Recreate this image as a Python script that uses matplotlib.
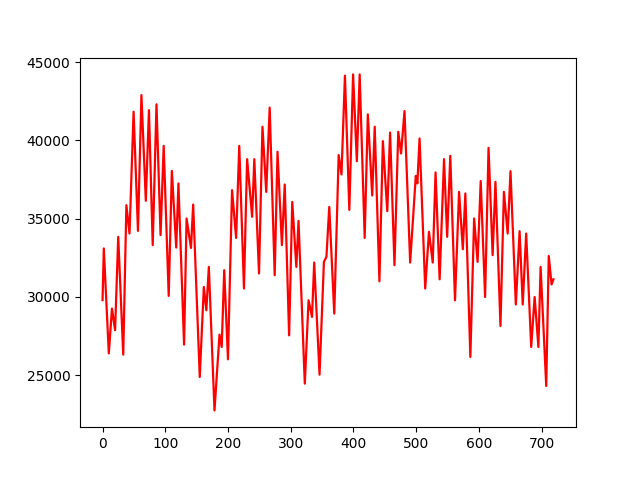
import matplotlib
matplotlib.use('Agg')
import matplotlib.pyplot as plt

# turning points (hour index, load)
hours = [0, 2, 10, 15, 20, 25, 33, 38, 43, 49.5, 56.5, 62, 69, 74, 80, 86, 92.5, 97.5,
         105.5, 110.5, 117.5, 121, 130, 134, 141, 144.5, 155, 161.5, 165.5, 169.5, 178.5,
         186.5, 190, 194, 200, 206.5, 213, 218, 225.5, 230.5, 238.5, 242, 249.5, 255, 261,
         266.5, 274.5, 279, 286, 290.5, 297.5, 302.5, 309, 312.5, 322.5, 328.5, 334, 337.5,
         346, 353, 357, 361.5, 369.5, 376.5, 381, 386.5, 393.5, 399.5, 405.5, 410, 418, 423,
         430, 434, 441.5, 447, 454, 458.5, 465.5, 471.5, 476, 481.5, 490.5, 499.5, 502,
         505.5, 514.5, 520.5, 526.5, 531, 537.5, 544.5, 549.5, 554.5, 562, 568.5, 574.5,
         578.5, 586.5, 592.5, 598, 603, 610, 615.5, 622, 626.5, 634.5, 640, 646, 650.5, 659,
         665, 670, 675.5, 683.5, 689, 695, 698.5, 707.5, 711.5, 716, 719]
load = [29800, 33100, 26400, 29260, 27880, 33840, 26320, 35860, 34050, 41830, 34220, 42890,
        36140, 41930, 33310, 42300, 33950, 39650, 30070, 38050, 33160, 37250, 26960, 35010,
        33130, 35900, 24890, 30640, 29150, 31920, 22760, 27600, 26810, 31710, 26020, 36820,
        33770, 39650, 30540, 38800, 35120, 38800, 31500, 40870, 36710, 42090, 31390, 39270,
        33310, 37180, 27550, 36070, 31920, 34860, 24470, 29790, 28730, 32200, 25040, 32240,
        32560, 35750, 28940, 39060, 37820, 44130, 35560, 44210, 38670, 44210, 33770, 41660,
        36480, 40870, 31000, 39950, 35480, 40500, 32030, 40550, 39160, 41870, 32200, 37730,
        37250, 40120, 30540, 34160, 32200, 37950, 31130, 38800, 33840, 39010, 29790, 36710,
        33050, 36610, 26170, 35010, 32240, 37400, 30000, 39520, 32670, 37350, 28150, 36710,
        34050, 38030, 29520, 34200, 29520, 34050, 26810, 30000, 26810, 31920, 24320, 32620,
        30800, 31130]

fig, ax = plt.subplots(figsize=(6.4, 4.8), dpi=100)
ax.plot(hours, load, color='red', lw=1.6, solid_joinstyle='round')
fig.savefig('out.png')
